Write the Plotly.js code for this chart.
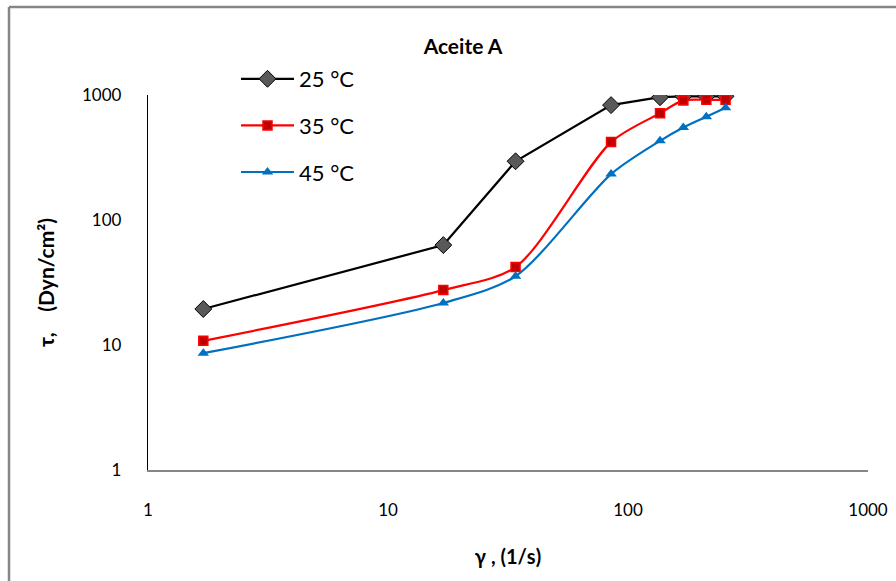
<!DOCTYPE html>
<html>
<head>
<meta charset="utf-8">
<script src="https://cdn.plot.ly/plotly-3.0.1.min.js"></script>
<style>html,body{margin:0;padding:0;background:#fff;}#chart{width:896px;height:581px;}</style>
</head>
<body>
<div id="chart"></div>
<script>
const shearRate = [1.7, 17, 34, 85, 136, 170, 212, 255];
const tau25 = [19.4, 63, 295, 830, 960, 975, 975, 975];
const tau35 = [10.8, 27.5, 42, 420, 715, 905, 915, 915];
const tau45 = [8.6, 21.7, 35.5, 233, 430, 550, 670, 790];
const seriesNames = ['25 °C', '35 °C', '45 °C'];
const xTicks = [1, 10, 100, 1000];
const yTicks = [1, 10, 100, 1000];

const font = 'Lato, "Liberation Sans", sans-serif';

const traces = [
  {x: shearRate, y: tau25, name: seriesNames[0], mode: 'lines+markers', legendgroup: 'a',
   line: {color: '#000000', width: 2.2},
   marker: {symbol: 'diamond', size: 13, color: '#595959', line: {color: '#000000', width: 1}}},
  {x: shearRate, y: tau35, name: seriesNames[1], mode: 'lines+markers', legendgroup: 'b',
   line: {color: '#FF0000', width: 2.2, shape: 'spline', smoothing: 0.8},
   marker: {symbol: 'square', size: 9, color: '#C00000', line: {color: '#FF0000', width: 1.5}}},
  {x: shearRate, y: tau45, name: seriesNames[2], mode: 'lines+markers', legendgroup: 'c',
   line: {color: '#0070C0', width: 2.2, shape: 'spline', smoothing: 0.8},
   marker: {symbol: 'triangle-up', size: 10, color: '#0070C0'}}
];

const layout = {
  width: 896, height: 581,
  margin: {l: 148, r: 28, t: 95, b: 111},
  paper_bgcolor: '#ffffff', plot_bgcolor: '#ffffff',
  font: {family: font, size: 17, color: '#000'},
  title: {text: '<b>Aceite A</b>', font: {family: font, size: 21, color: '#000'},
          xref: 'container', x: 463/896, xanchor: 'center', y: 1 - 47/581, yanchor: 'middle'},
  showlegend: true,
  legend: {x: (236-148)/720, xanchor: 'left', y: (470-58)/375, yanchor: 'top', bgcolor: 'rgba(0,0,0,0)',
           font: {family: font, size: 22, color: '#000'}, tracegroupgap: 15, traceorder: 'grouped',
           itemwidth: 53},
  xaxis: {type: 'log', range: [0, 3], tickvals: xTicks, ticktext: xTicks.map(String),
          showgrid: false, zeroline: false, showline: true, linecolor: '#868686', linewidth: 1.5,
          ticks: '', ticklabelstandoff: 24, tickfont: {family: font, size: 17},
          title: {text: '<b>γ , (1/s)</b>', font: {family: font, size: 20}, standoff: 31}},
  yaxis: {type: 'log', range: [0, 3], tickvals: yTicks, ticktext: yTicks.map(String),
          showgrid: false, zeroline: false, showline: true, linecolor: '#000000', linewidth: 1.2,
          ticks: '', ticklabelstandoff: 22, tickfont: {family: font, size: 17},
          title: {text: '<b>τ,    (Dyn/cm²)</b>', font: {family: font, size: 21}, standoff: 21}},
  shapes: [
    {type: 'line', xref: 'paper', yref: 'paper', x0: (9-148)/720, x1: (9-148)/720,
     y0: (470-7)/375, y1: (470-600)/375, line: {color: '#868686', width: 2.5}},
    {type: 'line', xref: 'paper', yref: 'paper', x0: (9-148)/720, x1: (900-148)/720,
     y0: (470-7)/375, y1: (470-7)/375, line: {color: '#868686', width: 2.5}}
  ]
};

Plotly.newPlot('chart', traces, layout, {displayModeBar: false, staticPlot: true});
</script>
</body>
</html>
